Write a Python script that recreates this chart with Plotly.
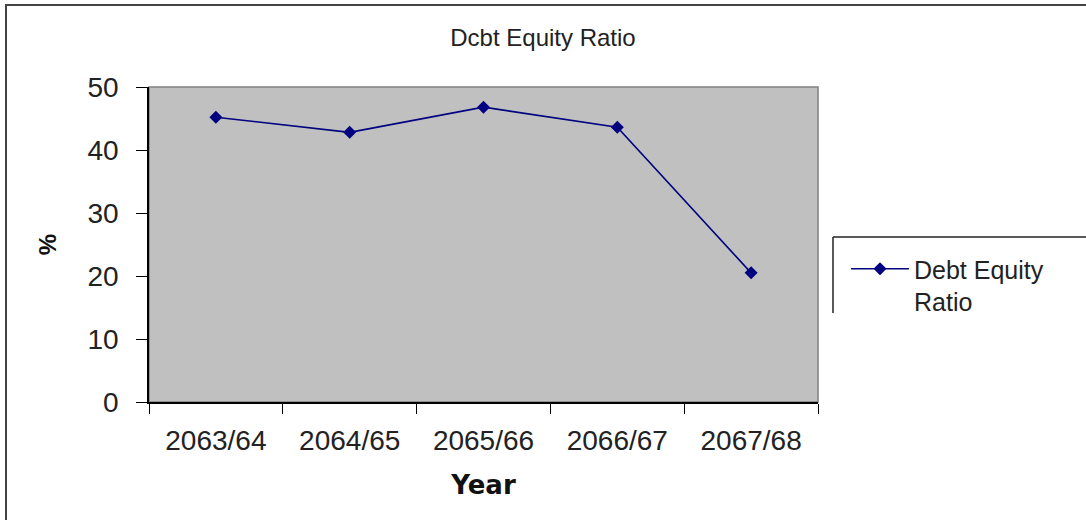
import plotly.graph_objects as go

years = ["2063/64", "2064/65", "2065/66", "2066/67", "2067/68"]
ratio = [45.2, 42.8, 46.8, 43.6, 20.5]
y_ticks = [0, 10, 20, 30, 40, 50]

W, H = 1086, 520
L, R, T, B = 149, 818, 87, 402
pw, ph = R - L, B - T


def px(x):
    return (x - L) / pw


def py(y):
    return (B - y) / ph


fig = go.Figure()
fig.add_trace(go.Scatter(
    x=years, y=ratio, mode="lines+markers", name="Debt Equity<br>Ratio",
    line=dict(color="#000080", width=1.6),
    marker=dict(symbol="diamond", size=10, color="#000080"),
))

FONT = "Liberation Sans, Arial, sans-serif"

fig.update_layout(
    width=W, height=H,
    margin=dict(l=L, r=W - R, t=T, b=H - B),
    paper_bgcolor="white",
    plot_bgcolor="#C0C0C0",
    title=dict(text="Dcbt Equity Ratio", x=543 / W, xref="container", xanchor="center",
               y=1 - 38 / H, yref="container", yanchor="middle",
               font=dict(family=FONT, size=24, color="#222")),
    xaxis=dict(
        type="category", range=[-0.5, 4.5], showgrid=False, showline=True, linecolor="black", linewidth=1.5,
        ticks="outside", tickson="boundaries", ticklen=10, tickcolor="black",
        tickfont=dict(family=FONT, size=28, color="#222"), ticklabelstandoff=13,
        title=dict(text="Year", font=dict(family="DejaVu Sans, sans-serif", size=26, color="#111", weight="bold"), standoff=20),
    ),
    yaxis=dict(
        range=[0, 50], tickvals=y_ticks, showgrid=False, showline=True, linecolor="black", linewidth=1.5,
        ticks="outside", ticklen=11, tickcolor="black",
        tickfont=dict(family=FONT, size=28, color="#222"), ticklabelstandoff=12,
        title=dict(text="%", font=dict(family=FONT, size=24, color="#111", weight="bold"), standoff=24),
    ),
    showlegend=True,
    legend=dict(x=px(846), xanchor="left", y=py(246), yanchor="top", itemwidth=58, valign="top",
                bgcolor="rgba(0,0,0,0)", font=dict(family=FONT, size=25, color="#222"),
                tracegroupgap=0),
    shapes=[
        # plot area border (top/right grey)
        dict(type="rect", xref="paper", yref="paper", x0=0, y0=0, x1=1, y1=1,
             line=dict(color="#808080", width=1.5), layer="below"),
        # outer chart frame
        dict(type="rect", xref="paper", yref="paper", x0=px(6), y0=py(530), x1=px(1095), y1=py(5),
             line=dict(color="#444", width=2)),
        # legend box (top + left visible)
        dict(type="line", xref="paper", yref="paper", x0=px(833), x1=px(1095), y0=py(237), y1=py(237),
             line=dict(color="#222", width=1.5)),
        dict(type="line", xref="paper", yref="paper", x0=px(833), x1=px(833), y0=py(237), y1=py(313),
             line=dict(color="#222", width=1.5)),
    ],
)

fig.write_html("out.html")
